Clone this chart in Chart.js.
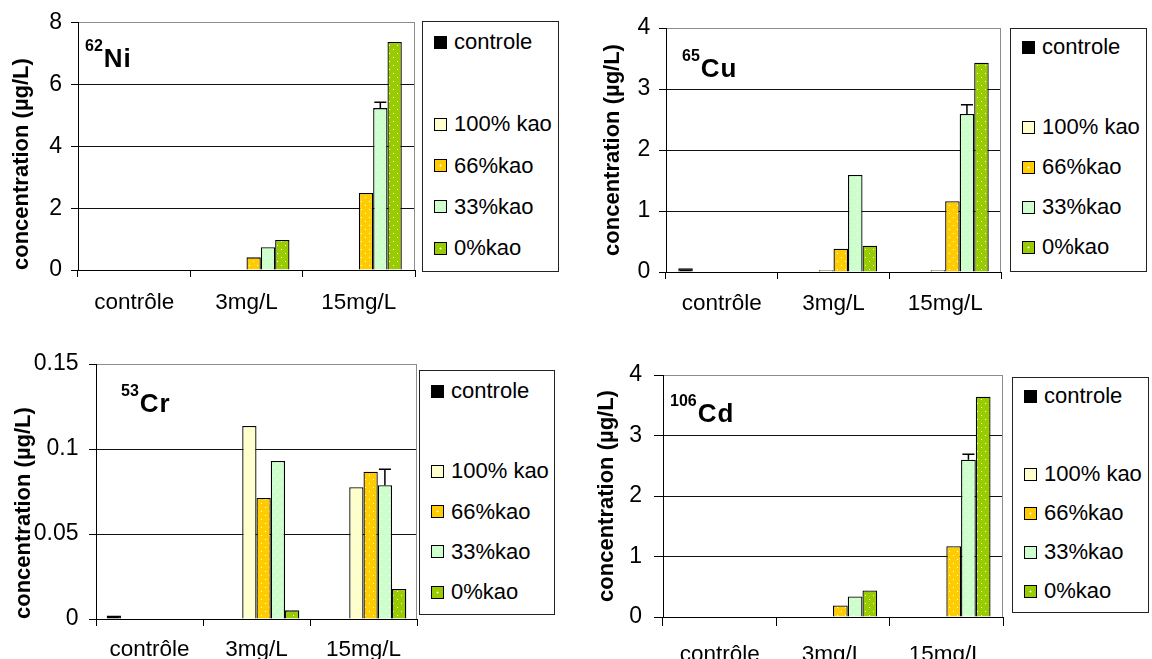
<!DOCTYPE html>
<html>
<head>
<meta charset="utf-8">
<script src="https://cdn.jsdelivr.net/npm/chart.js@4"></script>
<style>
  body { margin: 0; background: #fff; width: 1152px; height: 659px; overflow: hidden; position: relative;
         font-family: 'Liberation Sans', Arial, sans-serif; }
  canvas { position: absolute; }
  .legend { position: absolute; border: 1px solid #222; box-sizing: border-box; background: #fff; }
  .item { position: absolute; left: 0; height: 30px; line-height: 30px; display: flex; align-items: center;
          font-size: 22px; color: #000; white-space: nowrap; }
  .swatch { width: 13px; height: 13px; box-sizing: border-box; border: 1px solid #000; margin-left: 11px; margin-right: 7px; }
  .elem { position: absolute; font-weight: bold; font-size: 26px; line-height: 26px; letter-spacing: 1px; color: #000; }
  .elem sup { font-size: 16px; line-height: 0; letter-spacing: 0; vertical-align: 16px; margin-right: 1px; }
</style>
</head>
<body>
<script>
// categories and series (same for the four panels)
var categories = ['contrôle', '3mg/L', '15mg/L'];
var seriesNames = ['controle', '', '100% kao', '66%kao', '33%kao', '0%kao'];
var seriesColors = ['#000000', null, '#FFFFCC', '#FFCC00', '#CCFFCC', '#99CC00'];
var seriesDotted = [false, false, true, true, true, true];
var blank = [null, null, null];

// 62Ni
var niControle = [0, 0, 0];
var niKao100 = [0, 0, 0];
var niKao66 = [0, 0.41, 2.49];
var niKao33 = [0, 0.74, 5.24];
var niKao0 = [0, 0.97, 7.38];
var niErr33 = [0, 0, 0.19];

// 65Cu
var cuControle = [0.06, 0, 0];
var cuKao100 = [0, 0.03, 0.03];
var cuKao66 = [0, 0.38, 1.16];
var cuKao33 = [0, 1.59, 2.59];
var cuKao0 = [0, 0.43, 3.43];
var cuErr33 = [0, 0, 0.15];

// 53Cr
var crControle = [0.002, 0, 0];
var crKao100 = [0, 0.1135, 0.0775];
var crKao66 = [0, 0.0712, 0.0866];
var crKao33 = [0, 0.0929, 0.0787];
var crKao0 = [0, 0.0051, 0.0177];
var crErr33 = [0, 0, 0.0094];

// 106Cd
var cdControle = [0, 0, 0];
var cdKao100 = [0, 0, 0];
var cdKao66 = [0, 0.19, 1.17];
var cdKao33 = [0, 0.34, 2.6];
var cdKao0 = [0, 0.44, 3.64];
var cdErr33 = [0, 0, 0.09];

var yTitle = 'concentration (µg/L)';

Chart.defaults.font.family = "'Liberation Sans', Arial, sans-serif";
Chart.defaults.color = '#000';

var panels = [
    { mass: '62', sym: 'Ni', series: [niControle, blank, niKao100, niKao66, niKao33, niKao0], err: niErr33,
      yMax: 8, yStep: 2,
      box: { x: 0, y: 0, w: 420, h: 330 }, area: { left: 78, top: 21, right: 415, bottom: 270 },
      catPct: 0.765, tick: 7, yPad: 9, xPad: 12.5, titlePad: 8.8, titleAlign: 'start',
      legend: { left: 422, top: 21, w: 137, h: 251, first: 21, step: 41.2 },
      label: { left: 85, baseline: 67 } },
    { mass: '65', sym: 'Cu', series: [cuControle, blank, cuKao100, cuKao66, cuKao33, cuKao0], err: cuErr33,
      yMax: 4, yStep: 1,
      box: { x: 576, y: 0, w: 430, h: 330 }, area: { left: 666, top: 28, right: 1001, bottom: 272 },
      catPct: 0.78, tick: 7, yPad: 8.7, xPad: 11.5, titlePad: 23.3, titleAlign: 'center',
      legend: { left: 1010, top: 28, w: 137, h: 244, first: 19, step: 40 },
      label: { left: 682, baseline: 77 } },
    { mass: '53', sym: 'Cr', series: [crControle, blank, crKao100, crKao66, crKao33, crKao0], err: crErr33,
      yMax: 0.15, yStep: 0.05,
      box: { x: 0, y: 330, w: 422, h: 329 }, area: { left: 96, top: 364, right: 417, bottom: 619 },
      catPct: 0.80, tick: 7, yPad: 10.5, xPad: 10.5, titlePad: 10.3, titleAlign: 'start',
      legend: { left: 419, top: 370, w: 136, h: 245, first: 21, step: 40.2 },
      label: { left: 121, baseline: 412 } },
    { mass: '106', sym: 'Cd', series: [cdControle, blank, cdKao100, cdKao66, cdKao33, cdKao0], err: cdErr33,
      yMax: 4, yStep: 1,
      box: { x: 576, y: 330, w: 432, h: 329 }, area: { left: 663, top: 375, right: 1003, bottom: 617 },
      catPct: 0.78, tick: 9, yPad: 12, xPad: 15, titlePad: 17.8, titleAlign: 'center',
      legend: { left: 1012, top: 377, w: 137, h: 236, first: 19, step: 39 },
      label: { left: 670, baseline: 422 } }
];

// white dots on the coloured fill, like the excel pattern
function dotted(g, color) {
    var c = document.createElement('canvas');
    c.width = 8; c.height = 8;
    var t = c.getContext('2d');
    t.fillStyle = color; t.fillRect(0, 0, 8, 8);
    t.fillStyle = '#ffffff';
    t.fillRect(1, 1, 1, 1);
    t.fillRect(5, 5, 1, 1);
    return g.createPattern(c, 'repeat');
}

// gray right border of the plot area
var framePlugin = {
    id: 'frame',
    beforeDatasetsDraw: function (chart) {
        var ctx = chart.ctx, a = chart.chartArea;
        ctx.save();
        ctx.strokeStyle = '#8c8c8c';
        ctx.lineWidth = 1;
        ctx.beginPath();
        ctx.moveTo(Math.round(a.right) - 0.5, a.top);
        ctx.lineTo(Math.round(a.right) - 0.5, a.bottom);
        ctx.stroke();
        ctx.restore();
    }
};

// plus-only error bar on one series
var errorBarPlugin = {
    id: 'errorBars',
    afterDatasetsDraw: function (chart, args, opts) {
        var ctx = chart.ctx;
        var y = chart.scales.y;
        var meta = chart.getDatasetMeta(opts.dataset);
        var values = chart.data.datasets[opts.dataset].data;
        ctx.save();
        ctx.strokeStyle = '#000';
        ctx.lineWidth = 1.5;
        opts.errors.forEach(function (e, i) {
            if (!e) return;
            var bar = meta.data[i];
            var yTop = y.getPixelForValue(values[i] + e);
            ctx.beginPath();
            ctx.moveTo(bar.x, bar.y);
            ctx.lineTo(bar.x, yTop);
            ctx.moveTo(bar.x - opts.cap / 2, yTop);
            ctx.lineTo(bar.x + opts.cap / 2, yTop);
            ctx.stroke();
        });
        ctx.restore();
    }
};

function buildPanel(p) {
    var cv = document.createElement('canvas');
    cv.width = p.box.w;
    cv.height = p.box.h;
    cv.style.left = p.box.x + 'px';
    cv.style.top = p.box.y + 'px';
    document.body.appendChild(cv);
    var g = cv.getContext('2d');

    var datasets = p.series.map(function (vals, i) {
        var fill = seriesColors[i] ? (seriesDotted[i] ? dotted(g, seriesColors[i]) : seriesColors[i]) : 'rgba(0,0,0,0)';
        return {
            label: seriesNames[i],
            data: vals,
            backgroundColor: fill,
            borderColor: '#000',
            borderWidth: 1.3,
            categoryPercentage: p.catPct,
            barPercentage: 1
        };
    });

    var yw = p.area.left - p.box.x;
    var xh = p.box.y + p.box.h - p.area.bottom;

    new Chart(cv, {
        type: 'bar',
        data: { labels: categories, datasets: datasets },
        plugins: [framePlugin, errorBarPlugin],
        options: {
            responsive: false,
            animation: false,
            devicePixelRatio: 1,
            layout: { padding: { left: 0, top: p.area.top - p.box.y, right: p.box.x + p.box.w - p.area.right, bottom: 0 } },
            plugins: {
                legend: { display: false },
                tooltip: { enabled: false },
                errorBars: { dataset: 4, errors: p.err, cap: 12 }
            },
            scales: {
                x: {
                    offset: true,
                    grid: { offset: true, drawOnChartArea: false, drawTicks: true, tickLength: p.tick, color: '#000', lineWidth: 1 },
                    border: { color: '#000', width: 1 },
                    ticks: { color: '#000', font: { size: 22.5 }, padding: p.xPad, maxRotation: 0, autoSkip: false },
                    afterFit: function (s) { s.height = xh; }
                },
                y: {
                    min: 0,
                    max: p.yMax,
                    grid: {
                        color: function (c) { return c.tick && Math.abs(c.tick.value - p.yMax) < 1e-9 ? '#8c8c8c' : '#111'; },
                        tickColor: '#000',
                        tickLength: p.tick,
                        lineWidth: 1
                    },
                    border: { color: '#000', width: 1 },
                    ticks: {
                        stepSize: p.yStep,
                        color: '#000',
                        font: { size: 23 },
                        padding: p.yPad,
                        callback: function (v) { return String(Number(v.toFixed(2))); }
                    },
                    title: {
                        display: true,
                        text: yTitle,
                        color: '#000',
                        align: p.titleAlign,
                        font: { size: 22, weight: 'bold' },
                        padding: { top: p.titlePad, bottom: 0 }
                    },
                    afterFit: function (s) { s.width = yw; }
                }
            }
        }
    });

    // boxed legend, one row per series (the unnamed one leaves its gap)
    var lg = document.createElement('div');
    lg.className = 'legend';
    lg.style.left = p.legend.left + 'px';
    lg.style.top = p.legend.top + 'px';
    lg.style.width = p.legend.w + 'px';
    lg.style.height = p.legend.h + 'px';
    seriesNames.forEach(function (name, i) {
        if (!name) return;
        var it = document.createElement('div');
        it.className = 'item';
        it.style.top = (p.legend.first + i * p.legend.step - 1 - 15) + 'px';
        var sw = document.createElement('span');
        sw.className = 'swatch';
        sw.style.background = seriesDotted[i]
            ? 'radial-gradient(circle, #fff 0.8px, rgba(255,255,255,0) 1.2px) center / 11px 11px no-repeat, ' + seriesColors[i]
            : seriesColors[i];
        it.appendChild(sw);
        it.appendChild(document.createTextNode(name));
        lg.appendChild(it);
    });
    document.body.appendChild(lg);

    // isotope label
    var el = document.createElement('div');
    el.className = 'elem';
    el.style.left = p.label.left + 'px';
    el.style.top = (p.label.baseline - 22) + 'px';
    el.innerHTML = '<sup>' + p.mass + '</sup>' + p.sym;
    document.body.appendChild(el);
}

panels.forEach(buildPanel);
</script>
</body>
</html>
